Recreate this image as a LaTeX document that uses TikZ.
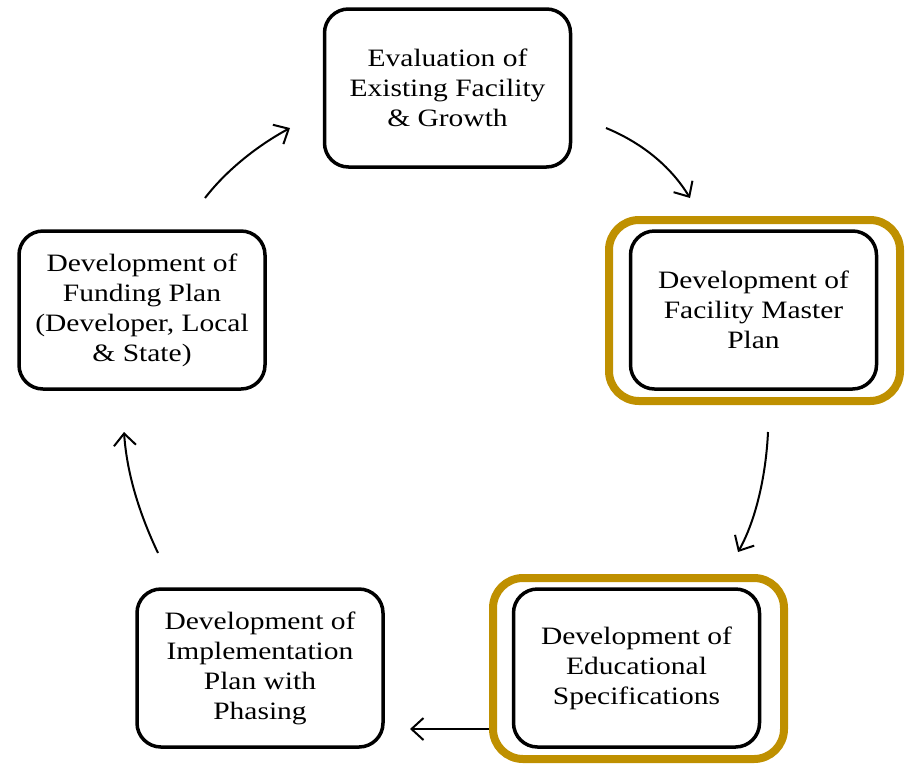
\documentclass[tikz,border=0pt]{standalone}
\usepackage{fontspec}
\setmainfont{Liberation Serif}[FakeStretch=1.18]
\usetikzlibrary{arrows.meta}
\definecolor{gold}{RGB}{191,144,0}
\begin{document}
\begin{tikzpicture}[x=1pt,y=-1pt,
  stagebox/.style={draw=black,line width=3.5pt,rounded corners=24pt,fill=white,
    minimum width=246pt,minimum height=158pt,align=center,
    font=\fontsize{25}{30}\selectfont,inner sep=0pt},
  goldbox/.style={draw=gold,line width=8pt,rounded corners=30pt,
    minimum width=291pt,minimum height=181pt,inner sep=0pt},
  flow/.style={line width=2pt,-{Straight Barb[length=12pt,width=22pt,line width=2pt]}}]
\useasboundingbox (0,0) rectangle (909,764);
\node[goldbox] (g1) at (754.5,310.5) {};
\node[goldbox] (g2) at (638.5,668.5) {};
\node[stagebox] (eval) at (447.5,88) {Evaluation of\\Existing Facility\\\& Growth};
\node[stagebox] (master) at (753.5,310) {Development of\\Facility Master\\Plan};
\node[stagebox] (edspec) at (636.5,668) {Development of\\Educational\\Specifications};
\node[stagebox] (impl) at (260,668) {Development of\\Implementation\\Plan with\\Phasing};
\node[stagebox] (fund) at (142,310) {Development of\\Funding Plan\\(Developer, Local\\\& State)};
\coordinate (a1s) at (606,128); \coordinate (a1e) at (690,198);
\coordinate (a2s) at (768,432); \coordinate (a2e) at (738,552);
\coordinate (a3s) at (489,729); \coordinate (a3e) at (410,729);
\coordinate (a4s) at (158,553); \coordinate (a4e) at (124,432);
\coordinate (a5s) at (205,198); \coordinate (a5e) at (290,128);
\draw[flow] (a1s) .. controls (640,142) and (670,165) .. (a1e);
\draw[flow] (a2s) .. controls (766,475) and (756,520) .. (a2e);
\draw[flow] (a3s) -- (a3e);
\draw[flow] (a4s) .. controls (140,515) and (127,475) .. (a4e);
\draw[flow] (a5s) .. controls (225,172) and (255,147) .. (a5e);
\end{tikzpicture}
\end{document}
